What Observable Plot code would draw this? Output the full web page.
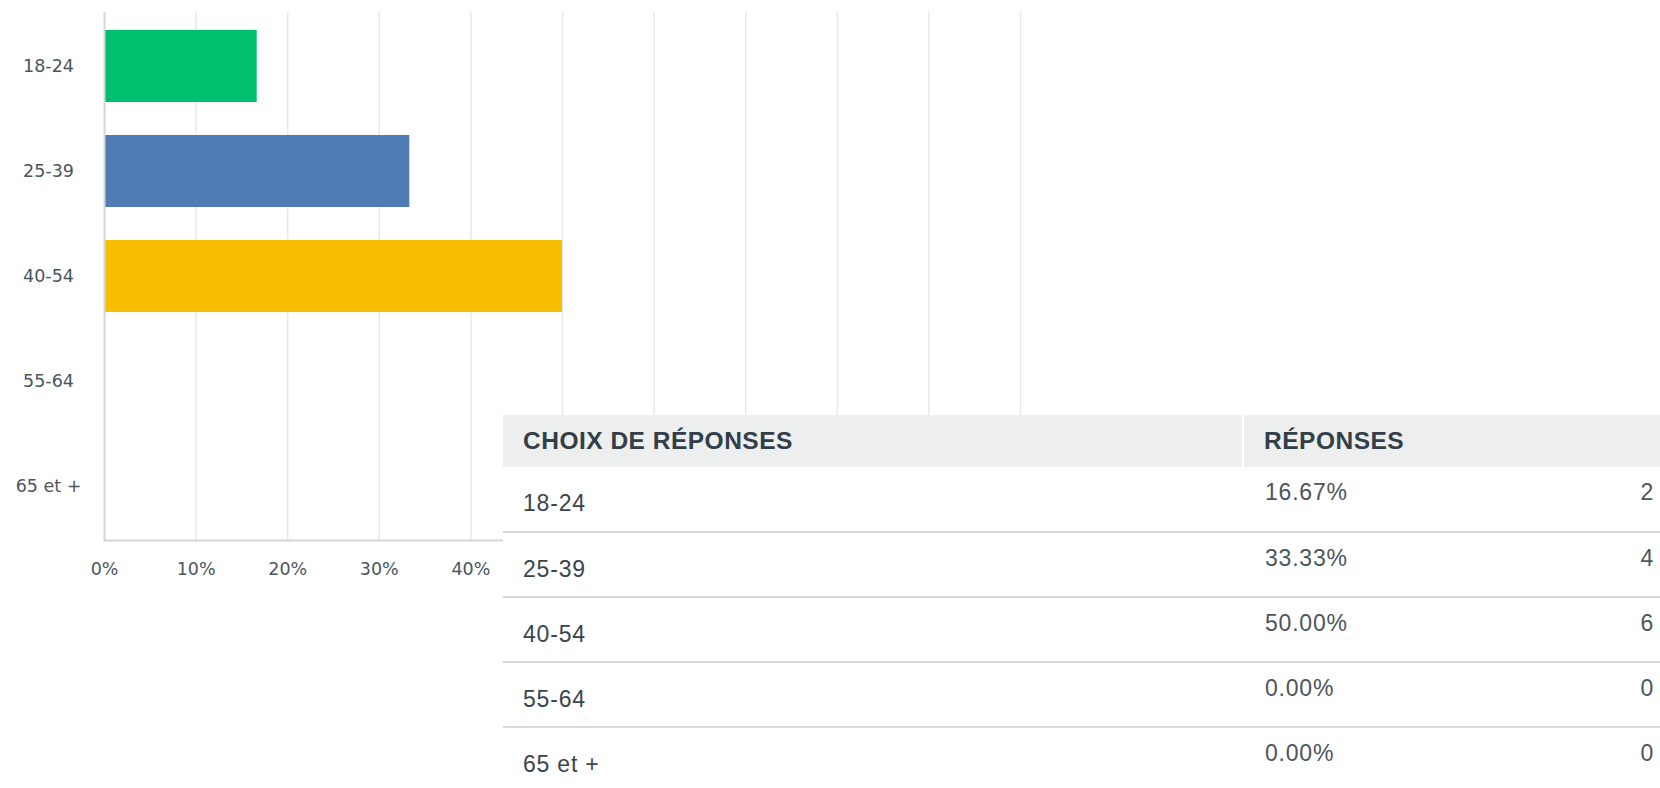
<!DOCTYPE html>
<html><head><meta charset="utf-8">
<script src="https://cdn.jsdelivr.net/npm/d3@7"></script>
<script src="https://cdn.jsdelivr.net/npm/@observablehq/plot@0.6"></script>
<style>
html,body{margin:0;padding:0;background:#fff;}
body{width:1660px;height:788px;overflow:hidden;position:relative;font-family:"Liberation Sans",Arial,sans-serif;}
#chart{position:absolute;left:0;top:0;}
#tbl{position:absolute;left:503px;top:415px;width:1157px;background:#fff;border-collapse:collapse;table-layout:fixed;}
#tbl th{background:#edeeee;color:#333e48;font-weight:bold;font-size:24.5px;text-align:left;height:52px;padding:0 0 0 20px;vertical-align:middle;letter-spacing:0.5px;}
#tbl th.sep{border-left:2px solid #fff;}
#tbl tbody tr{height:65px;}
#tbl td{border-bottom:2px solid #d7d9da;vertical-align:top;font-size:23px;line-height:26px;color:#4c555c;padding:0;letter-spacing:0.8px;}
#tbl td.lab{padding:23px 0 0 20px;color:#3a444c;}
#tbl td.pct{padding:12px 0 0 22px;}
#tbl td.cnt{padding:12px 6px 0 0;text-align:right;}
#tbl tr:last-child td{border-bottom:none;}
</style></head>
<body><div id="chart"></div><table id="tbl"><colgroup><col style="width:740px"><col><col style="width:60px"></colgroup><thead></thead><tbody></tbody></table>
<script>
const categories = ["18-24", "25-39", "40-54", "55-64", "65 et +"];
const percents = [16.67, 33.33, 50.00, 0, 0];
const counts = [2, 4, 6, 0, 0];
const barColors = ["#00bf6f", "#507cb6", "#f9be00", "#6bc8cd", "#ff8b4f"];
const xTicks = [0, 10, 20, 30, 40, 50, 60, 70, 80, 90, 100];
const headers = ["CHOIX DE RÉPONSES", "RÉPONSES"];

const data = categories.map((c, i) => ({cat: c, pct: percents[i], color: barColors[i]}));

const chart = Plot.plot({
  width: 1660,
  height: 600,
  marginLeft: 104,
  marginRight: 640,
  marginTop: 12,
  marginBottom: 60,
  style: {fontFamily: "'DejaVu Sans', sans-serif", fontSize: "17.5px", color: "#4b555e", background: "transparent", overflow: "visible"},
  x: {domain: [0, 100], label: null},
  y: {domain: categories, paddingInner: 0.31, paddingOuter: 0.155, label: null},
  marks: [
    Plot.gridX(xTicks.filter(d => d > 0), {stroke: "#e8e8e8", strokeOpacity: 1, strokeWidth: 1.5}),
    Plot.barX(data, {x: "pct", y: "cat", fill: "color"}),
    Plot.ruleX([0], {stroke: "#d3d5d6", strokeWidth: 2}),
    Plot.frame({anchor: "bottom", stroke: "#d3d5d6", strokeWidth: 2}),
    Plot.axisX({ticks: xTicks, tickSize: 0, tickPadding: 22, tickFormat: d => d + "%", label: null, style: "letter-spacing:2px"}),
    Plot.axisY({tickSize: 0, tickPadding: 56, textAnchor: "middle", label: null, style: "letter-spacing:2px"})
  ]
});
document.getElementById("chart").appendChild(chart);

const thead = d3.select("#tbl thead").append("tr");
thead.append("th").text(headers[0]);
thead.append("th").attr("class", "sep").attr("colspan", 2).text(headers[1]);

const rows = d3.select("#tbl tbody").selectAll("tr").data(categories).join("tr");
rows.append("td").attr("class", "lab").text(d => d);
rows.append("td").attr("class", "pct").text((d, i) => percents[i].toFixed(2) + "%");
rows.append("td").attr("class", "cnt").text((d, i) => counts[i]);
</script>
</body></html>
